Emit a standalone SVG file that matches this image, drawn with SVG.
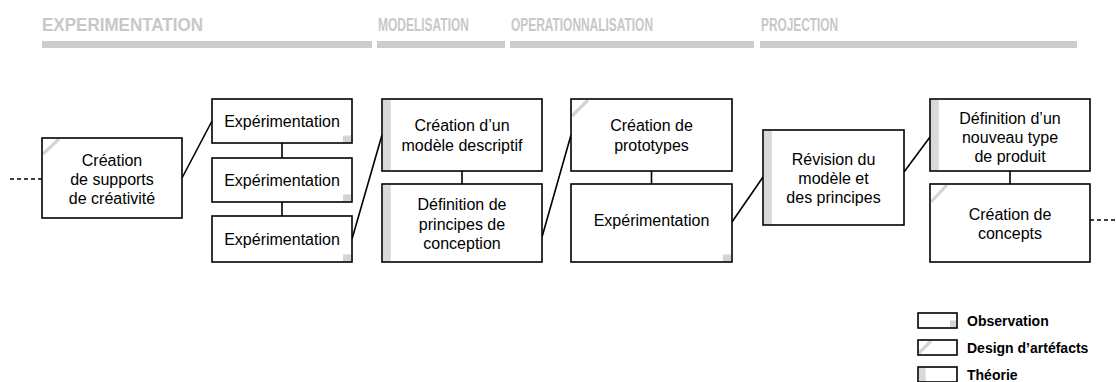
<svg xmlns="http://www.w3.org/2000/svg" width="1116" height="382" viewBox="0 0 1116 382">
<style>
.box{fill:none;stroke:#000;stroke-width:1.6}
.bg{fill:#fff}
.lbl{font-family:"Liberation Sans",Arial,Helvetica,sans-serif;font-size:16px;text-anchor:middle;fill:#000}
.hdr{font-family:"Liberation Sans",Arial,Helvetica,sans-serif;font-weight:bold;font-size:18.5px;fill:#c8c8c8}
.bar{fill:#cccccc}
.obs{fill:#d4d4d4}
.theo{fill:#d9d9d9}
.des{stroke:#d4d4d4;stroke-width:3.2;fill:none}
.con{stroke:#000;stroke-width:1.6;fill:none}
.dash{stroke:#000;stroke-width:1.4;fill:none;stroke-dasharray:4 3}
.leg{font-family:"Liberation Sans",Arial,Helvetica,sans-serif;font-weight:bold;font-size:14px;fill:#000}
</style>
<rect width="1116" height="382" fill="#fff"/>
<g id="headers">
<text class="hdr" x="42" y="30.5" textLength="161" lengthAdjust="spacingAndGlyphs">EXPERIMENTATION</text>
<rect class="bar" x="42" y="41" width="330" height="7"/>
<text class="hdr" x="378" y="30.5" textLength="91" lengthAdjust="spacingAndGlyphs">MODELISATION</text>
<rect class="bar" x="377" y="41" width="128" height="7"/>
<text class="hdr" x="511" y="30.5" textLength="142" lengthAdjust="spacingAndGlyphs">OPERATIONNALISATION</text>
<rect class="bar" x="510" y="41" width="244" height="7"/>
<text class="hdr" x="761" y="30.5" textLength="77" lengthAdjust="spacingAndGlyphs">PROJECTION</text>
<rect class="bar" x="760" y="41" width="317" height="7"/>
</g>
<g id="connectors">
<line class="dash" x1="10" y1="179" x2="42" y2="179"/>
<line class="con" x1="182" y1="178" x2="212" y2="121"/>
<line class="con" x1="282" y1="143" x2="282" y2="158"/>
<line class="con" x1="282" y1="202" x2="282" y2="216"/>
<line class="con" x1="352" y1="239" x2="382" y2="135"/>
<line class="con" x1="462" y1="171" x2="462" y2="184"/>
<line class="con" x1="542" y1="237" x2="571" y2="135"/>
<line class="con" x1="651.5" y1="171" x2="651.5" y2="184"/>
<line class="con" x1="732" y1="222" x2="763" y2="177"/>
<line class="con" x1="904" y1="172" x2="930" y2="137"/>
<line class="con" x1="1010" y1="171" x2="1010" y2="184"/>
<line class="dash" x1="1090" y1="220" x2="1116" y2="220"/>
</g>
<g id="n-supports">
<rect class="bg" x="42" y="138" width="140" height="80"/>
<line class="des" x1="43" y1="154" x2="59" y2="139"/>
<rect class="box" x="42" y="138" width="140" height="80"/>
<text class="lbl" x="112" y="166">Création</text>
<text class="lbl" x="112" y="185">de supports</text>
<text class="lbl" x="112" y="204">de créativité</text>
</g>
<g id="n-exp1">
<rect class="bg" x="212" y="99" width="140" height="44"/>
<rect class="obs" x="343" y="135.5" width="8" height="7"/>
<rect class="box" x="212" y="99" width="140" height="44"/>
<text class="lbl" x="282" y="126.7">Expérimentation</text>
</g>
<g id="n-exp2">
<rect class="bg" x="212" y="158" width="140" height="44"/>
<rect class="obs" x="343" y="194.5" width="8" height="7"/>
<rect class="box" x="212" y="158" width="140" height="44"/>
<text class="lbl" x="282" y="185.7">Expérimentation</text>
</g>
<g id="n-exp3">
<rect class="bg" x="212" y="216" width="140" height="46"/>
<rect class="obs" x="343" y="254.5" width="8" height="7"/>
<rect class="box" x="212" y="216" width="140" height="46"/>
<text class="lbl" x="282" y="244.5">Expérimentation</text>
</g>
<g id="n-mod1">
<rect class="bg" x="382" y="99" width="160" height="72"/>
<rect class="theo" x="382.8" y="99.8" width="8" height="70.4"/>
<rect class="box" x="382" y="99" width="160" height="72"/>
<text class="lbl" x="462" y="131">Création d’un</text>
<text class="lbl" x="462" y="151">modèle descriptif</text>
</g>
<g id="n-mod2">
<rect class="bg" x="382" y="184" width="160" height="78"/>
<rect class="theo" x="382.8" y="184.8" width="8" height="76.4"/>
<rect class="box" x="382" y="184" width="160" height="78"/>
<text class="lbl" x="462" y="210">Définition de</text>
<text class="lbl" x="462" y="229.5">principes de</text>
<text class="lbl" x="462" y="249">conception</text>
</g>
<g id="n-op1">
<rect class="bg" x="571" y="99" width="161" height="72"/>
<line class="des" x1="572" y1="116" x2="588" y2="100"/>
<rect class="box" x="571" y="99" width="161" height="72"/>
<text class="lbl" x="651.5" y="131">Création de</text>
<text class="lbl" x="651.5" y="151">prototypes</text>
</g>
<g id="n-op2">
<rect class="bg" x="571" y="184" width="161" height="78"/>
<rect class="obs" x="723" y="254.5" width="8" height="7"/>
<rect class="box" x="571" y="184" width="161" height="78"/>
<text class="lbl" x="651.5" y="226">Expérimentation</text>
</g>
<g id="n-revision">
<rect class="bg" x="763" y="130" width="141" height="95"/>
<rect class="theo" x="763.8" y="130.8" width="8" height="93.4"/>
<rect class="box" x="763" y="130" width="141" height="95"/>
<text class="lbl" x="833.5" y="165">Révision du</text>
<text class="lbl" x="833.5" y="184">modèle et</text>
<text class="lbl" x="833.5" y="203">des principes</text>
</g>
<g id="n-proj1">
<rect class="bg" x="930" y="99" width="160" height="72"/>
<rect class="theo" x="930.8" y="99.8" width="8" height="70.4"/>
<rect class="box" x="930" y="99" width="160" height="72"/>
<text class="lbl" x="1010" y="123.5">Définition d’un</text>
<text class="lbl" x="1010" y="142.5">nouveau type</text>
<text class="lbl" x="1010" y="161.5">de produit</text>
</g>
<g id="n-proj2">
<rect class="bg" x="930" y="184" width="160" height="78"/>
<line class="des" x1="931" y1="202" x2="947" y2="185"/>
<rect class="box" x="930" y="184" width="160" height="78"/>
<text class="lbl" x="1010" y="220">Création de</text>
<text class="lbl" x="1010" y="239">concepts</text>
</g>
<g id="legend">
<rect class="bg" x="918" y="313" width="39" height="15"/>
<rect class="obs" x="950" y="320.5" width="6.2" height="6.7"/>
<rect class="box" x="918" y="313" width="39" height="15" stroke-width="1.3"/>
<text class="leg" x="967" y="326">Observation</text>
<rect class="bg" x="918" y="340" width="39" height="15"/>
<line class="des" x1="919" y1="353" x2="931" y2="341" stroke-width="2.6"/>
<rect class="box" x="918" y="340" width="39" height="15" stroke-width="1.3"/>
<text class="leg" x="967" y="353">Design d’artéfacts</text>
<rect class="bg" x="918" y="367" width="39" height="15"/>
<rect class="theo" x="918.6" y="367.6" width="7" height="14"/>
<rect class="box" x="918" y="367" width="39" height="15" stroke-width="1.3"/>
<text class="leg" x="967" y="380">Théorie</text>
</g>
</svg>
